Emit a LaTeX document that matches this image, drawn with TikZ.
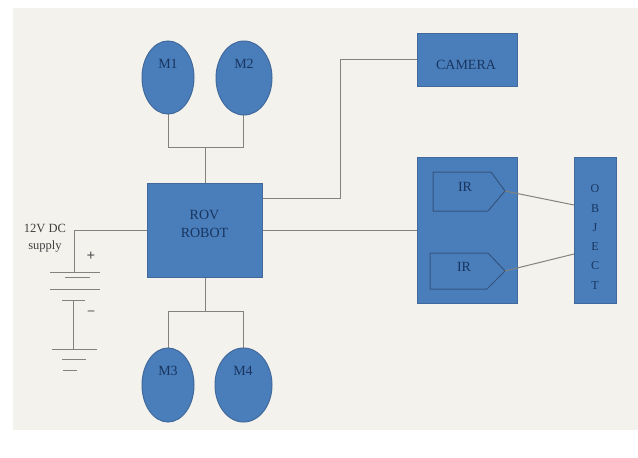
\documentclass[tikz,border=0pt]{standalone}
\usepackage{fontspec}
\usetikzlibrary{shapes.geometric}
\setmainfont{Liberation Serif}
\definecolor{bluefill}{HTML}{4A7EBB}
\definecolor{blueedge}{HTML}{41699C}
\definecolor{bgpaper}{HTML}{F4F2ED}
\definecolor{wire}{HTML}{83837C}
\definecolor{inktext}{HTML}{183560}
\tikzset{
  x=1pt,y=-1pt,
  blockbox/.style={draw=blueedge,fill=bluefill,line width=1pt,inner sep=0pt},
  motor/.style={draw=blueedge,fill=bluefill,line width=1pt},
  wireline/.style={draw=wire,line width=1pt},
  plate/.style={draw=wire,line width=.9pt},
  irshape/.style={draw=blueedge!80!black,fill=bluefill,line width=1pt},
  plain/.style={text=inktext,font=\fontsize{14}{18}\selectfont,inner sep=0pt,align=center},
  supplytext/.style={text=black!75,font=\fontsize{12.5}{17}\selectfont,align=center,inner sep=0pt}
}
\begin{document}
\begin{tikzpicture}
\useasboundingbox (0,0) rectangle (638,458);
\fill[white] (0,0) rectangle (638,458);
\fill[bgpaper] (13,8) rectangle (638,430);
% coordinates
\coordinate (topj) at (205,147);
\coordinate (topl) at (168,147);
\coordinate (topr) at (243,147);
\coordinate (botj) at (205,311);
\coordinate (botl) at (168,311);
\coordinate (botr) at (243,311);
\coordinate (camr) at (340,198);
\coordinate (camt) at (340,59);
\coordinate (robcam) at (262,198);
\coordinate (camin) at (417,59);
\coordinate (leftc) at (74,230);
\coordinate (battop) at (74,272);
\coordinate (batlow) at (73,300);
\coordinate (gnd) at (73,349);
\coordinate (tipa) at (505,191);
\coordinate (tipb) at (505,271);
\coordinate (obja) at (574,205);
\coordinate (objb) at (574,254);
% wires
\draw[wireline] (168,114) -- (topl) -- (topr) -- (243,114);
\draw[wireline] (topj) -- (205,183);
\draw[wireline] (205,277) -- (botj);
\draw[wireline] (168,348) -- (botl) -- (botr) -- (243,348);
\draw[wireline] (robcam) -- (camr) -- (camt) -- (camin);
\draw[wireline] (262,230) -- (417,230);
\draw[wireline] (147,230) -- (leftc) -- (battop);
\draw[wireline] (batlow) -- (gnd);
% battery
\draw[plate] (50,272) -- (100,272);
\draw[plate] (65,277) -- (90,277);
\draw[plate] (50,289) -- (100,289);
\draw[plate] (62,300) -- (85,300);
\draw[plate] (52,349) -- (97,349);
\draw[plate] (62,359) -- (86,359);
\draw[plate] (63,370) -- (77,370);
% blocks
\node[blockbox,minimum width=115pt,minimum height=94pt] (rov) at (204.5,230) {};
\node[plain] (rovtext) at (204.5,224) {ROV\\ROBOT};
\node[motor,ellipse,minimum width=52pt,minimum height=73pt,inner sep=0pt] (m1) at (168,77.5) {};
\node[motor,ellipse,minimum width=56pt,minimum height=74pt,inner sep=0pt] (m2) at (244,78) {};
\node[motor,ellipse,minimum width=52pt,minimum height=74pt,inner sep=0pt] (m3) at (168,385) {};
\node[motor,ellipse,minimum width=57pt,minimum height=74pt,inner sep=0pt] (m4) at (243.5,385) {};
\node[plain] (t1) at (168,64) {M1};
\node[plain] (t2) at (244,64) {M2};
\node[plain] (t3) at (168,371) {M3};
\node[plain] (t4) at (243,371) {M4};
\node[blockbox,minimum width=100pt,minimum height=53pt] (camera) at (467,59.5) {};
\node[plain] (camtext) at (466,65) {CAMERA};
\node[blockbox,minimum width=100pt,minimum height=146pt] (irbox) at (467,230) {};
\node[blockbox,minimum width=42pt,minimum height=146pt] (object) at (595,230) {};
\node[text=inktext,font=\fontsize{12}{19.3}\selectfont,align=center,inner sep=0pt] (objtext) at (595,237) {O\\B\\J\\E\\C\\T};
\draw[irshape] (433,172) -- (491,172) -- (505,191) -- (488,211) -- (433,211) -- cycle;
\draw[irshape] (430,253) -- (488,253) -- (505,271) -- (487,289) -- (430,289) -- cycle;
\draw[wireline] (tipa) -- (obja);
\draw[wireline] (tipb) -- (objb);
\node[plain] (ir1) at (465,187) {IR};
\node[plain] (ir2) at (464,267) {IR};
\node[supplytext] (supply) at (45,238) {12V DC\\supply};
\node[font=\bfseries\fontsize{15}{15}\selectfont,text=black!70,inner sep=0pt] (plus) at (91,256) {+};
\node[font=\bfseries\fontsize{13}{13}\selectfont,text=black!70,inner sep=0pt] (minus) at (91,313) {–};
\end{tikzpicture}
\end{document}
